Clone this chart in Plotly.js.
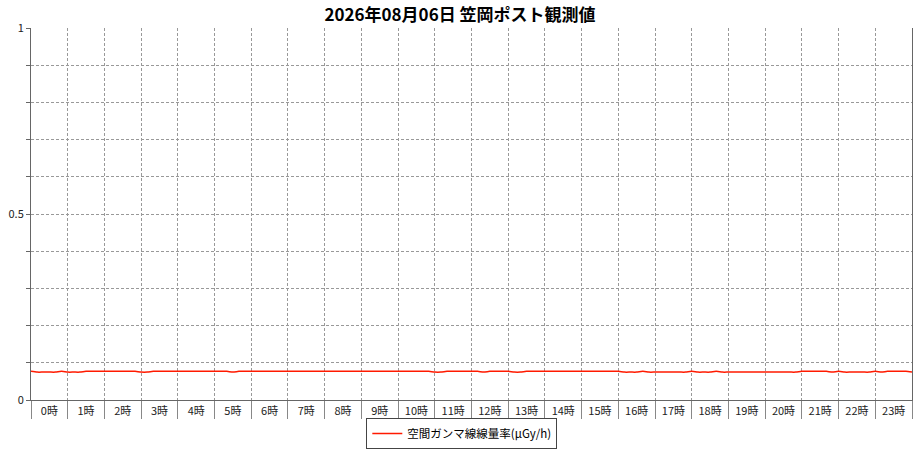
<!DOCTYPE html>
<html>
<head>
<meta charset="utf-8">
<script src="https://cdn.plot.ly/plotly-3.0.1.min.js"></script>
<style>html,body{margin:0;padding:0;background:#fff;}#chart{width:920px;height:450px;}</style>
</head>
<body>
<div id="chart"></div>
<script>
const chartTitle = '2026年08月06日 笠岡ポスト観測値';
const seriesName = '空間ガンマ線線量率(μGy/h)';
const hourLabels = ['0時','1時','2時','3時','4時','5時','6時','7時','8時','9時','10時','11時',
  '12時','13時','14時','15時','16時','17時','18時','19時','20時','21時','22時','23時'];
// 10-minute readings, 00:00 .. 24:00 (μGy/h)
const doseRate = [
  0.077,0.075,0.075,0.075,0.075,0.077,  // 0時
  0.075,0.075,0.075,0.077,0.077,0.077,  // 1時
  0.077,0.077,0.077,0.077,0.077,0.077,  // 2時
  0.075,0.075,0.077,0.077,0.077,0.077,  // 3時
  0.077,0.077,0.077,0.077,0.077,0.077,  // 4時
  0.077,0.077,0.077,0.075,0.077,0.077,  // 5時
  0.077,0.077,0.077,0.077,0.077,0.077,  // 6時
  0.077,0.077,0.077,0.077,0.077,0.077,  // 7時
  0.077,0.077,0.077,0.077,0.077,0.077,  // 8時
  0.077,0.077,0.077,0.077,0.077,0.077,  // 9時
  0.077,0.077,0.077,0.077,0.077,0.077,  // 10時
  0.075,0.075,0.077,0.077,0.077,0.077,  // 11時
  0.077,0.077,0.075,0.077,0.077,0.077,  // 12時
  0.077,0.075,0.075,0.077,0.077,0.077,  // 13時
  0.077,0.077,0.077,0.077,0.077,0.077,  // 14時
  0.077,0.077,0.077,0.077,0.077,0.077,  // 15時
  0.077,0.075,0.075,0.075,0.077,0.075,  // 16時
  0.075,0.075,0.075,0.075,0.075,0.075,  // 17時
  0.077,0.075,0.075,0.075,0.077,0.075,  // 18時
  0.075,0.075,0.075,0.075,0.075,0.075,  // 19時
  0.075,0.075,0.075,0.075,0.075,0.075,  // 20時
  0.077,0.077,0.077,0.077,0.077,0.075,  // 21時
  0.077,0.075,0.075,0.075,0.075,0.075,  // 22時
  0.077,0.075,0.077,0.077,0.077,0.077,  // 23時
  0.075                                  // 24:00
];
const yTickVals = [0,0.1,0.2,0.3,0.4,0.5,0.6,0.7,0.8,0.9,1];
const yTickText = ['0','','','','','0.5','','','','','1'];

const hoursX = doseRate.map((_, i) => i / 6);
const hourEdges = hourLabels.map((_, i) => i).concat([hourLabels.length]);
const hourMids = hourLabels.map((_, i) => i + 0.5);

const font = 'Noto Sans CJK JP, Noto Sans, sans-serif';

const traces = [
  {
    x: hoursX, y: doseRate, type: 'scatter', mode: 'lines',
    name: seriesName,
    line: {color: '#ff1a00', width: 1.5, shape: 'spline', smoothing: 0.6},
    xaxis: 'x', yaxis: 'y', hoverinfo: 'x+y'
  },
  {
    x: hourMids, y: hourMids.map(() => null), type: 'scatter', mode: 'lines',
    xaxis: 'x2', yaxis: 'y', showlegend: false, hoverinfo: 'skip'
  }
];

const layout = {
  width: 920, height: 450,
  margin: {l: 31, r: 8, t: 28, b: 50, pad: 0, autoexpand: false},
  paper_bgcolor: '#fff', plot_bgcolor: '#fff',
  title: {text: chartTitle, x: 0.5, xanchor: 'center', yref: 'container', y: 0.967, yanchor: 'middle',
          font: {family: font, size: 17, color: '#000', weight: 'bold'}},
  showlegend: true,
  legend: {orientation: 'h', x: 0.489, xanchor: 'center', y: 0.002, yanchor: 'bottom',
           yref: 'container',
           bordercolor: '#444', borderwidth: 1, bgcolor: '#fff',
           font: {family: font, size: 11.5, color: '#000'}, itemwidth: 30,
           tracegroupgap: 0},
  xaxis: {
    range: [0, 24], tickvals: hourEdges, showticklabels: false,
    ticks: 'outside', ticklen: 18, tickcolor: '#888', tickwidth: 1, automargin: false,
    showgrid: true, gridcolor: '#999', griddash: '3px,2px', gridwidth: 1,
    showline: true, linecolor: '#666', linewidth: 1, zeroline: false, fixedrange: true
  },
  xaxis2: {
    overlaying: 'x', side: 'bottom', range: [0, 24], automargin: false,
    tickvals: hourMids, ticktext: hourLabels, ticks: '',
    showgrid: false, showline: false, zeroline: false,
    tickfont: {family: font, size: 11, color: '#222'}, ticklabelstandoff: 3
  },
  yaxis: {
    range: [0, 1], tickvals: yTickVals, ticktext: yTickText, automargin: false,
    ticks: 'outside', ticklen: 4, tickcolor: '#666',
    showgrid: true, gridcolor: '#999', griddash: '3px,2px', gridwidth: 1,
    showline: true, mirror: true, linecolor: '#666', linewidth: 1, zeroline: false,
    tickfont: {family: font, size: 11, color: '#222'}, fixedrange: true
  }
};

Plotly.newPlot('chart', traces, layout, {staticPlot: true, displayModeBar: false});
</script>
</body>
</html>
